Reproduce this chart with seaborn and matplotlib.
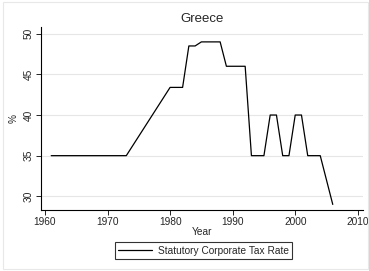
import numpy as np
import pandas as pd
import seaborn as sns
import matplotlib.pyplot as plt
from matplotlib.patches import Rectangle

years = [1961, 1962, 1963, 1964, 1965, 1966, 1967, 1968, 1969, 1970, 1971, 1972, 1973,
         1980, 1981, 1982, 1983, 1984, 1985, 1986, 1987, 1988,
         1989, 1990, 1991, 1992, 1993, 1994, 1995, 1996, 1997, 1998, 1999,
         2000, 2001, 2002, 2003, 2004, 2006]
rates = [35, 35, 35, 35, 35, 35, 35, 35, 35, 35, 35, 35, 35,
         43.4, 43.4, 43.4, 48.5, 48.5, 49, 49, 49, 49,
         46, 46, 46, 46, 35, 35, 35, 40, 40, 35, 35,
         40, 40, 35, 35, 35, 29]

sns.set_style("white")
plt.rcParams['font.family'] = ['Liberation Sans', 'DejaVu Sans']

df = pd.DataFrame({"Year": years, "rate": rates})

fig = plt.figure(figsize=(3.69, 2.71), dpi=100)
fig.patch.set_facecolor("white")
# faint outer frame
fig.patches.append(Rectangle((3 / 369, 2 / 271), 365 / 369, 267 / 271, transform=fig.transFigure,
                             fill=False, edgecolor="#e8e8e8", lw=0.8))
ax = fig.add_axes([0.111, 0.225, 0.873, 0.675])

sns.lineplot(data=df, x="Year", y="rate", color="black", lw=0.9, ax=ax,
             label="Statutory Corporate Tax Rate", legend=False)

ax.set_xlim(1959.36, 2010.85)
ax.set_ylim(28.31, 50.82)
ax.set_xticks([1960, 1970, 1980, 1990, 2000, 2010])
ax.set_yticks([30, 35, 40, 45, 50])
ax.yaxis.grid(True, color="#e6e6e6", lw=0.8)
ax.xaxis.grid(False)
for s in ["top", "right"]:
    ax.spines[s].set_visible(False)
for s in ["left", "bottom"]:
    ax.spines[s].set_color("black")
    ax.spines[s].set_linewidth(0.8)
ax.tick_params(axis="both", direction="out", length=3.5, width=0.6, color="black",
               labelsize=7.3, pad=1.5, bottom=True, left=True)
for lab in ax.get_yticklabels():
    lab.set_rotation(90)
    lab.set_va("center")
ax.set_xlabel("Year", fontsize=7.3, labelpad=0)
ax.set_ylabel("%", fontsize=7.3, labelpad=4)
ax.set_title("Greece", fontsize=9.5, pad=4)

handles, labels = ax.get_legend_handles_labels()
leg = fig.legend(handles, labels, loc="center", bbox_to_anchor=(203.5 / 369, 1 - 250.5 / 271),
                 fontsize=7.3, frameon=True, fancybox=False, handlelength=3.3,
                 borderpad=0.3, handletextpad=0.6, borderaxespad=0)
leg.get_frame().set_edgecolor("black")
leg.get_frame().set_linewidth(0.8)

fig.savefig("out.png", dpi=100)
